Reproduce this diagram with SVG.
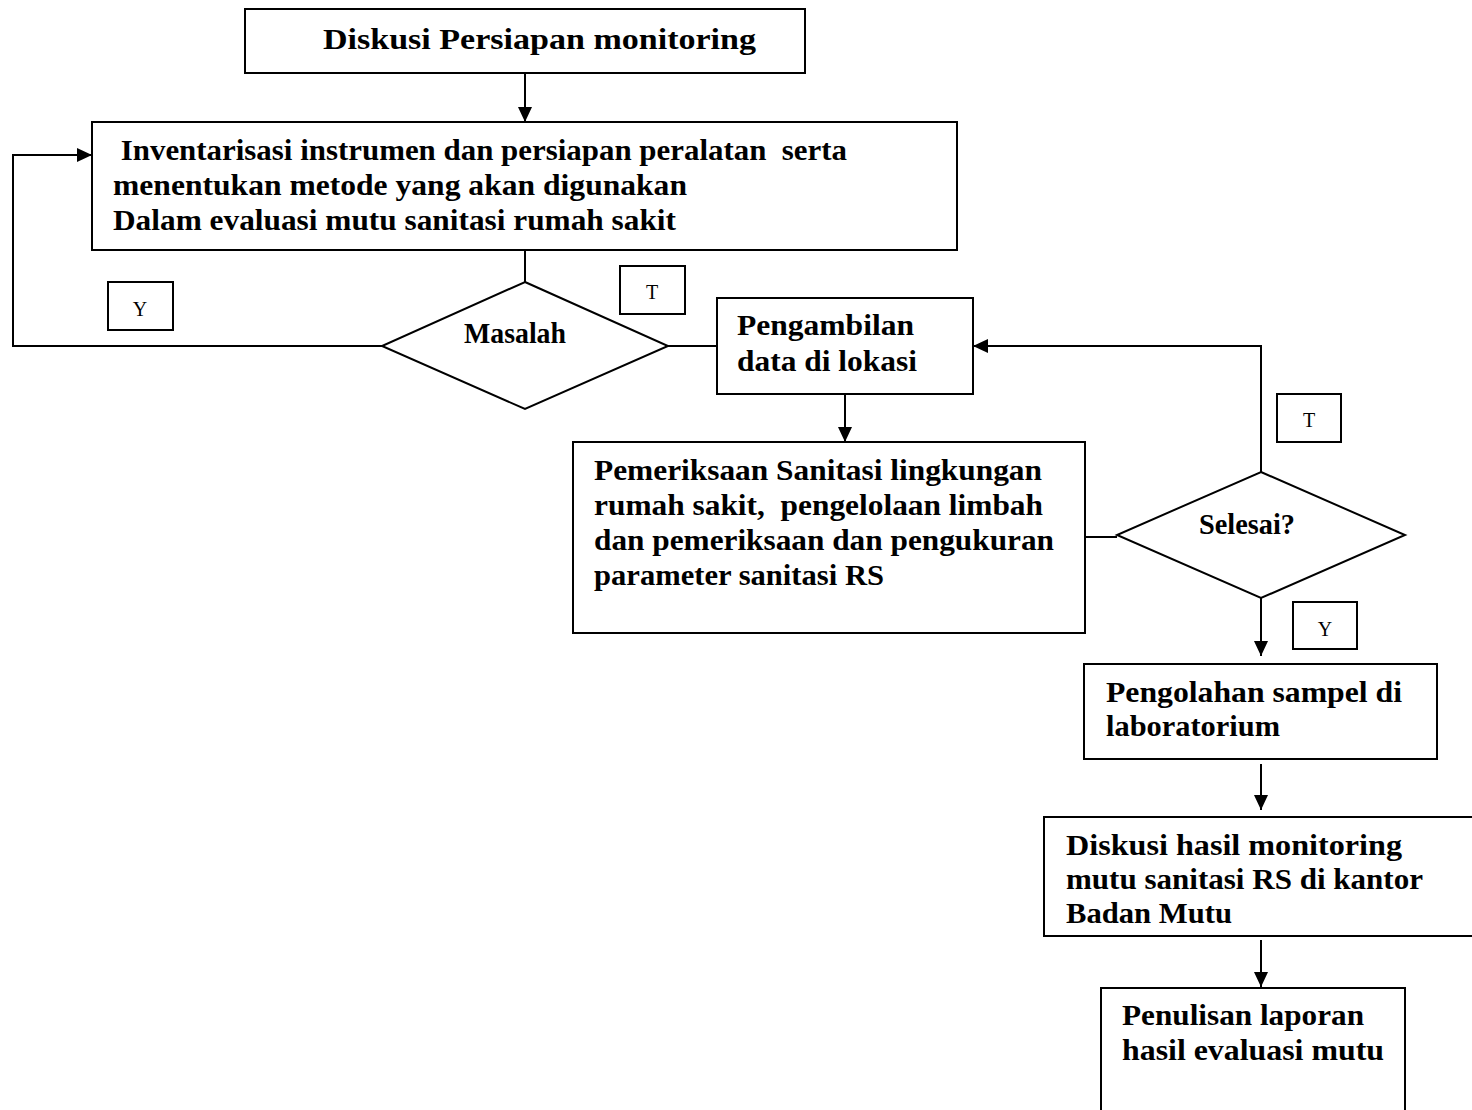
<svg xmlns="http://www.w3.org/2000/svg" width="1472" height="1110" viewBox="0 0 1472 1110">
<style>
.box{fill:#fff;stroke:#000;stroke-width:2}
.lbl{fill:#fff;stroke:#000;stroke-width:2}
.t{font-family:"Liberation Serif",serif;font-weight:bold;font-size:29px;fill:#000;white-space:pre}
.s{font-family:"Liberation Serif",serif;font-size:20px;fill:#000;text-anchor:middle}
.c{fill:none;stroke:#000;stroke-width:2}
</style>
<defs>
<marker id="ah" markerUnits="userSpaceOnUse" markerWidth="16" markerHeight="16" refX="15" refY="7" orient="auto">
<path d="M0,0 L15,7 L0,14 z" fill="#000"/>
</marker>
</defs>
<rect width="1472" height="1110" fill="#fff"/>
<g id="connectors">
<line class="c" x1="525" y1="73" x2="525" y2="122" marker-end="url(#ah)"/>
<line class="c" x1="525" y1="250" x2="525" y2="282"/>
<polyline class="c" points="382,346 13,346 13,155 92,155" marker-end="url(#ah)"/>
<line class="c" x1="668" y1="346" x2="717" y2="346"/>
<line class="c" x1="845" y1="394" x2="845" y2="442" marker-end="url(#ah)"/>
<line class="c" x1="1085" y1="537" x2="1117" y2="537"/>
<polyline class="c" points="1261,472 1261,346 973,346" marker-end="url(#ah)"/>
<line class="c" x1="1261" y1="598" x2="1261" y2="656" marker-end="url(#ah)"/>
<line class="c" x1="1261" y1="764" x2="1261" y2="810" marker-end="url(#ah)"/>
<line class="c" x1="1261" y1="940" x2="1261" y2="987" marker-end="url(#ah)"/>
</g>
<g id="n1">
<rect class="box" x="245" y="9" width="560" height="64"/>
<text class="t" x="323" y="49" textLength="433" lengthAdjust="spacingAndGlyphs">Diskusi Persiapan monitoring</text>
</g>
<g id="n2">
<rect class="box" x="92" y="122" width="865" height="128"/>
<text class="t" x="113" y="160" textLength="734" lengthAdjust="spacingAndGlyphs"> Inventarisasi instrumen dan persiapan peralatan  serta</text>
<text class="t" x="113" y="195" textLength="574" lengthAdjust="spacingAndGlyphs">menentukan metode yang akan digunakan</text>
<text class="t" x="113" y="230" textLength="563" lengthAdjust="spacingAndGlyphs">Dalam evaluasi mutu sanitasi rumah sakit</text>
</g>
<g id="n3">
<polygon class="box" points="525,282 668,346 525,409 382,346"/>
<text class="t" x="464" y="343" textLength="102" lengthAdjust="spacingAndGlyphs">Masalah</text>
</g>
<g id="lY1">
<rect class="lbl" x="108" y="282" width="65" height="48"/>
<text class="s" x="140" y="316">Y</text>
</g>
<g id="lT1">
<rect class="lbl" x="620" y="266" width="65" height="48"/>
<text class="s" x="652" y="299">T</text>
</g>
<g id="n4">
<rect class="box" x="717" y="298" width="256" height="96"/>
<text class="t" x="737" y="335" textLength="177" lengthAdjust="spacingAndGlyphs">Pengambilan</text>
<text class="t" x="737" y="371" textLength="180" lengthAdjust="spacingAndGlyphs">data di lokasi</text>
</g>
<g id="n5">
<rect class="box" x="573" y="442" width="512" height="191"/>
<text class="t" x="594" y="480" textLength="448" lengthAdjust="spacingAndGlyphs">Pemeriksaan Sanitasi lingkungan</text>
<text class="t" x="594" y="515" textLength="449" lengthAdjust="spacingAndGlyphs">rumah sakit,  pengelolaan limbah</text>
<text class="t" x="594" y="550" textLength="460" lengthAdjust="spacingAndGlyphs">dan pemeriksaan dan pengukuran</text>
<text class="t" x="594" y="585" textLength="290" lengthAdjust="spacingAndGlyphs">parameter sanitasi RS</text>
</g>
<g id="n6">
<polygon class="box" points="1261,472 1405,535 1261,598 1117,535"/>
<text class="t" x="1199" y="534" textLength="96" lengthAdjust="spacingAndGlyphs">Selesai?</text>
</g>
<g id="lT2">
<rect class="lbl" x="1277" y="394" width="64" height="48"/>
<text class="s" x="1309" y="427">T</text>
</g>
<g id="lY2">
<rect class="lbl" x="1293" y="602" width="64" height="47"/>
<text class="s" x="1325" y="636">Y</text>
</g>
<g id="n7">
<rect class="box" x="1084" y="664" width="353" height="95"/>
<text class="t" x="1106" y="702" textLength="296" lengthAdjust="spacingAndGlyphs">Pengolahan sampel di</text>
<text class="t" x="1106" y="736" textLength="174" lengthAdjust="spacingAndGlyphs">laboratorium</text>
</g>
<g id="n8">
<rect class="box" x="1044" y="817" width="440" height="119"/>
<text class="t" x="1066" y="855" textLength="336" lengthAdjust="spacingAndGlyphs">Diskusi hasil monitoring</text>
<text class="t" x="1066" y="889" textLength="357" lengthAdjust="spacingAndGlyphs">mutu sanitasi RS di kantor</text>
<text class="t" x="1066" y="923" textLength="166" lengthAdjust="spacingAndGlyphs">Badan Mutu</text>
</g>
<g id="n9">
<rect class="box" x="1101" y="988" width="304" height="140"/>
<text class="t" x="1122" y="1025" textLength="242" lengthAdjust="spacingAndGlyphs">Penulisan laporan</text>
<text class="t" x="1122" y="1060" textLength="262" lengthAdjust="spacingAndGlyphs">hasil evaluasi mutu</text>
</g>
</svg>
